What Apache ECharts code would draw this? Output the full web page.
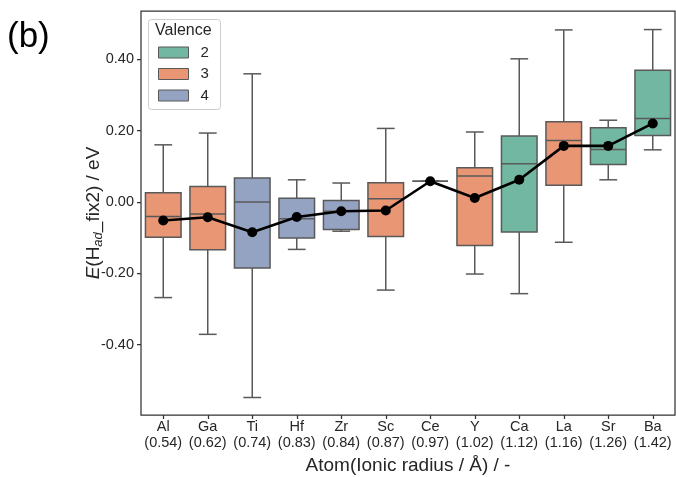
<!DOCTYPE html>
<html><head><meta charset="utf-8">
<script src="https://cdn.jsdelivr.net/npm/echarts@6/dist/echarts.min.js"></script>
<style>html,body{margin:0;padding:0;background:#fff}#c{width:676px;height:477px}</style>
</head><body><div id="c"></div>
<script>
const atoms = ['Al','Ga','Ti','Hf','Zr','Sc','Ce','Y','Ca','La','Sr','Ba'];
const radii = ['0.54','0.62','0.74','0.83','0.84','0.87','0.97','1.02','1.12','1.16','1.26','1.42'];
const valence = [3,3,4,4,4,3,4,3,2,3,2,2];
const whiskerLow  = [-0.268,-0.371,-0.548,-0.133,-0.082,-0.247,0.058,-0.202,-0.257,-0.113,0.062,0.146];
const q1          = [-0.099,-0.134,-0.185,-0.101,-0.077,-0.097,0.058,-0.122,-0.084,0.047,0.105,0.186];
const median      = [-0.041,-0.034,0.000,-0.047,-0.026,0.009,0.058,0.073,0.107,0.172,0.147,0.234];
const q3          = [0.026,0.043,0.067,0.010,0.004,0.054,0.058,0.096,0.185,0.225,0.208,0.369];
const whiskerHigh = [0.160,0.193,0.359,0.062,0.053,0.206,0.058,0.196,0.401,0.482,0.229,0.483];
const mean        = [-0.052,-0.043,-0.085,-0.042,-0.026,-0.024,0.058,0.011,0.062,0.157,0.157,0.220];
const valenceGroups = [2,3,4];
const groupColors = ['#72b7a1','#e99675','#95a3c3'];
const yTicks = [-0.4,-0.2,0,0.2,0.4];

const FONT = '"Liberation Sans", Arial, sans-serif';
const TXT = '#262626';
const EDGE = '#595959';

function renderBox(params, api){
  const x = api.value(0);
  const lo = api.coord([x, api.value(1)]);
  const b1 = api.coord([x, api.value(2)]);
  const md = api.coord([x, api.value(3)]);
  const b3 = api.coord([x, api.value(4)]);
  const hi = api.coord([x, api.value(5)]);
  const bw = api.size([1,0])[0]*0.8;
  const cw = bw/2;
  const cx = lo[0];
  const st = {stroke: EDGE, lineWidth: 1.5, fill: null};
  return {type:'group', children:[
    {type:'line', shape:{x1:cx,y1:hi[1],x2:cx,y2:b3[1]}, style:st},
    {type:'line', shape:{x1:cx,y1:b1[1],x2:cx,y2:lo[1]}, style:st},
    {type:'line', shape:{x1:cx-cw/2,y1:hi[1],x2:cx+cw/2,y2:hi[1]}, style:st},
    {type:'line', shape:{x1:cx-cw/2,y1:lo[1],x2:cx+cw/2,y2:lo[1]}, style:st},
    {type:'rect', shape:{x:cx-bw/2,y:b3[1],width:bw,height:Math.max(b1[1]-b3[1],0)},
      style:{fill: api.visual('color'), stroke: EDGE, lineWidth: 1.5}},
    {type:'line', shape:{x1:cx-bw/2,y1:md[1],x2:cx+bw/2,y2:md[1]}, style:st}
  ]};
}

const boxSeries = valenceGroups.map((v, gi) => {
  const data = [];
  atoms.forEach((a, i) => {
    if (valence[i] === v) data.push([i, whiskerLow[i], q1[i], median[i], q3[i], whiskerHigh[i]]);
  });
  return {
    name: String(v), type: 'custom', renderItem: renderBox,
    itemStyle: {color: groupColors[gi], borderColor: EDGE, borderWidth: 1},
    encode: {x: 0, y: [1,2,3,4,5]}, data: data, z: 2
  };
});

const chart = echarts.init(document.getElementById('c'), null, {renderer:'canvas'});
chart.setOption({
  animation: false,
  backgroundColor: '#fff',
  textStyle: {fontFamily: FONT, color: TXT},
  grid: {left: 141, right: 1, top: 11, bottom: 62, outerBoundsMode: 'none', containLabel: false,
    show: true, borderColor: '#333', borderWidth: 1.25, backgroundColor: 'transparent'},
  graphic: [
    {type:'text', left: 7, top: 20, style:{text:'(b)', font:'35px ' + FONT, fill:'#000'}},
    {type:'rect', left: 148, top: 19, z: 10, shape:{width:72, height:90, r:3}, style:{fill:'#fff', stroke:'#cccccc', lineWidth:1}},
    {type:'text', left: 155, top: 23, z: 11, style:{text:'Valence', font:'16px ' + FONT, fill: TXT}}
  ],
  legend: {
    orient: 'vertical', left: 158, top: 45, padding: 0, z: 12,
    itemWidth: 30, itemHeight: 11, itemGap: 6.5, icon: 'rect',
    itemStyle: {borderColor: EDGE, borderWidth: 1},
    textStyle: {fontSize: 15, color: TXT, fontFamily: FONT, padding: [0,0,0,7]},
    data: valenceGroups.map(String)
  },
  xAxis: {
    type: 'category', data: atoms, boundaryGap: true,
    axisLine: {show: false, onZero: false},
    axisTick: {show: true, alignWithLabel: true, length: 4, inside: false, lineStyle:{color:'#333', width:1.25}},
    axisLabel: {
      margin: 4, fontSize: 14.5, lineHeight: 16, color: TXT, fontFamily: FONT, interval: 0,
      formatter: (val, idx) => val + '\n(' + radii[idx] + ')'
    },
    name: 'Atom(Ionic radius / Å) / -', nameLocation: 'middle', nameGap: 41, nameMoveOverlap: false,
    nameTextStyle: {fontSize: 19, color: TXT, fontFamily: FONT},
    splitLine: {show: false}
  },
  yAxis: {
    type: 'value', min: -0.597, max: 0.535,
    axisLine: {show: false, onZero: false},
    axisTick: {show: true, length: 4, inside: false, customValues: yTicks, lineStyle:{color:'#333', width:1.25}},
    axisLabel: {margin: 7, fontSize: 14.5, color: TXT, fontFamily: FONT, customValues: yTicks,
      formatter: v => v.toFixed(2)},
    splitLine: {show: false},
    name: '{i|E}(H{s|ad}_fix2) / eV', nameLocation: 'middle', nameGap: 36, nameRotate: 90, nameMoveOverlap: false,
    nameTextStyle: {fontSize: 19, color: TXT, fontFamily: FONT,
      rich: {i: {fontStyle: 'italic', fontSize: 19, fontFamily: FONT, color: TXT},
             s: {fontStyle: 'italic', fontSize: 13, fontFamily: FONT, color: TXT, padding: [10,0,0,0]}}}
  },
  series: boxSeries.concat([{
    name: 'mean', type: 'line', data: mean, z: 5,
    lineStyle: {color: '#000', width: 2.6},
    itemStyle: {color: '#000'},
    symbol: 'circle', symbolSize: 10, showSymbol: true
  }])
});
</script>
</body></html>
